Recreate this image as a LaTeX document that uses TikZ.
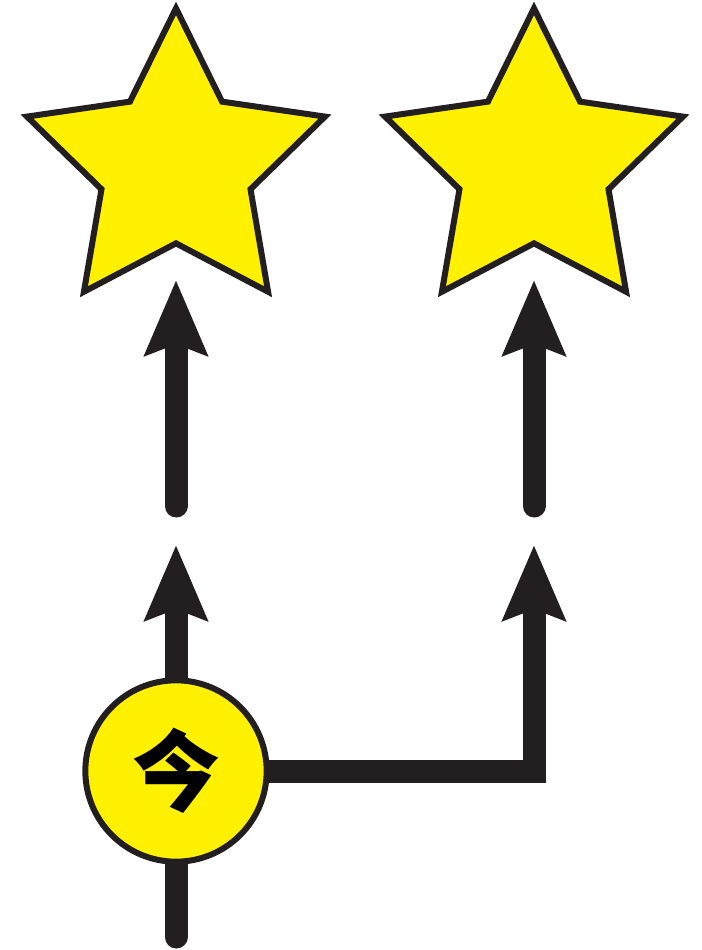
\documentclass[tikz,border=0pt]{standalone}
\usepackage{fontspec}
\newfontfamily\cjk{Noto Sans CJK SC}
\usetikzlibrary{arrows.meta,shapes.geometric,backgrounds}
\definecolor{starYellow}{HTML}{FFF100}
\definecolor{inkBlack}{HTML}{231F20}

\tikzset{
  goal/.style={star, star points=5, star point ratio=2.0, minimum size=235pt,
    inner sep=0pt, draw=inkBlack, fill=starYellow, line width=4.5pt, line join=miter},
  now/.style={circle, minimum size=136pt, inner sep=0pt, draw=inkBlack,
    fill=starYellow, line width=4.5pt},
  flow/.style={draw=inkBlack, line width=17.25pt, line join=miter,
    -{Stealth[length=56pt, width=46pt, inset=8pt]}},
  stub/.style={draw=inkBlack, line width=17.25pt, line cap=round},
}

\begin{document}
\begin{tikzpicture}[x=0.75pt,y=0.75pt,yscale=-1,xscale=1]
\useasboundingbox (0,0) rectangle (702,950);

%Stars
\node [goal] (goalL) at (176,165) {};
\node [goal] (goalR) at (534,165) {};

%Circle with text
\node [now] (here) at (176,771) {\cjk\bfseries\fontsize{66}{66}\selectfont 今};

%Arrow ends
\coordinate (baseL) at (176,506);
\coordinate (baseR) at (534,506);
\coordinate (tipL1) at (176,280);
\coordinate (tipR1) at (534,280);
\coordinate (tipL2) at (176,545);
\coordinate (tipR2) at (534,545);
\coordinate (endB) at (176,937);

%Upper arrows
\draw [flow, line cap=round] (baseL) -- (tipL1);
\draw [flow, line cap=round] (baseR) -- (tipR1);

%Lower arrows, behind the circle
\begin{scope}[on background layer]
\draw [flow] (here.center) -- (tipL2);
\draw [flow] (here.center) -| (tipR2);
\draw [stub] (here.center) -- (endB);
\end{scope}

\end{tikzpicture}
\end{document}
